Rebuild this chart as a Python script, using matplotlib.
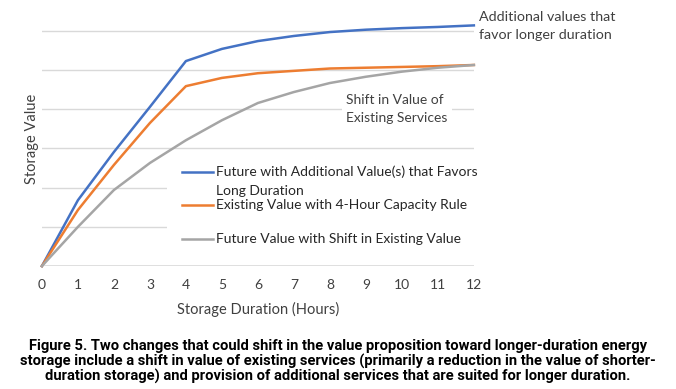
import matplotlib.pyplot as plt
from matplotlib.patches import Rectangle

hours = [0, 1, 2, 3, 4, 5, 6, 7, 8, 9, 10, 11, 12]
future_additional = [0, 1.68, 2.91, 4.06, 5.23, 5.54, 5.74, 5.87, 5.97, 6.03, 6.07, 6.10, 6.14]
existing_4hr = [0, 1.43, 2.58, 3.65, 4.59, 4.80, 4.92, 4.98, 5.04, 5.06, 5.08, 5.10, 5.13]
future_shift = [0, 1.00, 1.94, 2.63, 3.21, 3.72, 4.16, 4.44, 4.67, 4.83, 4.96, 5.06, 5.13]

labels = ["Future with Additional Value(s) that Favors\nLong Duration",
          "Existing Value with 4-Hour Capacity Rule",
          "Future Value with Shift in Existing Value"]
colors = ["#4472C4", "#ED7D31", "#A5A5A5"]

caption = ("Figure 5. Two changes that could shift in the value proposition toward longer-duration energy\n"
           "storage include a shift in value of existing services (primarily a reduction in the value of shorter-\n"
           "duration storage) and provision of additional services that are suited for longer duration.")

font = ["Lato", "DejaVu Sans"]
txt = "#404040"

fig = plt.figure(figsize=(6.76, 3.89), dpi=100)
ax = fig.add_axes([0.062, 0.316, 0.639, 0.655])

for v in range(1, 7):
    ax.axhline(v, color="#d9d9d9", lw=1, zorder=1)
ax.axhline(0, color="#d9d9d9", lw=1.2, zorder=1)

series = [future_additional, existing_4hr, future_shift]
for s, c in zip(series, colors):
    ax.plot(hours, s, color=c, lw=1.8, zorder=3, clip_on=False)

ax.set_xlim(0, 12)
ax.set_ylim(0, 6.5)
for sp in ax.spines.values():
    sp.set_visible(False)
ax.set_yticks([])
ax.set_xticks(hours)
ax.tick_params(axis="x", length=0, pad=9, labelsize=10, labelcolor=txt)
for t in ax.get_xticklabels():
    t.set_family(font)

ax.set_xlabel("Storage Duration (Hours)", family=font, fontsize=10.5, color=txt, labelpad=8)
ax.set_ylabel("Storage Value", family=font, fontsize=10.5, color=txt, labelpad=2)

# legend drawn by hand (white block hides the grid)
ax.add_patch(Rectangle((3.47, 0.15), 8.7, 2.75, facecolor="white", edgecolor="none",
                       zorder=2, clip_on=False))
rows = [2.40, 1.56, 0.69]
for lab, c, y in zip(labels, colors, rows):
    ax.plot([3.9, 4.75], [y, y], color=c, lw=1.8, zorder=4)
    for k, part in enumerate(lab.split("\n")):
        ax.text(4.85, y - 0.49 * k, part, family=font, fontsize=10, color="#262626",
                va="center", zorder=5)
# shift label
ax.text(8.45, 4.0, "Shift in Value of\nExisting Services", family=font, fontsize=10,
        color=txt, va="center", ha="left", linespacing=1.6, zorder=5,
        bbox=dict(facecolor="white", edgecolor="none", pad=3))
ax.text(12.15, 6.12, "Additional values that\nfavor longer duration", family=font,
        fontsize=10.3, color=txt, va="center", ha="left", linespacing=1.55, clip_on=False)

fig.text(0.5, 0.012, caption, ha="center", va="bottom", fontsize=10.6, weight="bold",
         family=["Roboto", "DejaVu Sans"], linespacing=1.05, color="black")

fig.savefig("out.png", dpi=100)
